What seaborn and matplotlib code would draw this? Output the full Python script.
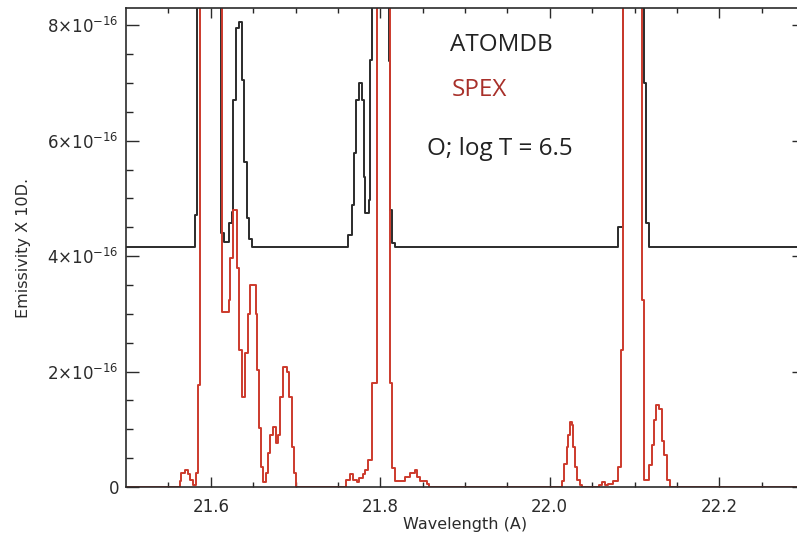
import numpy as np
import matplotlib
matplotlib.use("Agg")
import matplotlib.pyplot as plt
import seaborn as sns

# ------------------------
# Dados, emissividade em unidades de 1e-16
# ------------------------
atomdb_wl = [21.500, 21.5811, 21.5843, 21.6126, 21.6157, 21.6216, 21.6245,
             21.6263, 21.6295, 21.6334, 21.6363, 21.6393, 21.6422, 21.6449,
             21.6481, 21.7622, 21.7664, 21.7692, 21.7718, 21.7744, 21.7785,
             21.7805, 21.7825, 21.7862, 21.7880, 21.7900, 21.8106, 21.8118,
             21.8135, 21.8174, 22.0811, 22.0863, 22.1107, 22.1135, 22.1166,
             22.300]
atomdb_val = [4.15, 4.71, 20.0, 4.40, 4.24, 4.57, 4.76,
              6.70, 7.95, 8.06, 7.05, 5.63, 4.66, 4.30,
              4.15, 4.36, 4.88, 5.78, 6.70, 7.00, 6.70,
              5.37, 4.74, 4.97, 7.40, 20.0, 7.39, 4.80,
              4.22, 4.15, 4.50, 20.0, 7.00, 4.57, 4.15,
              4.15]

spex_wl = [21.500, 21.5634, 21.5654, 21.5693, 21.5728, 21.5760, 21.5791,
           21.5831, 21.5850, 21.5878, 21.6136, 21.6213, 21.6224, 21.6263,
           21.6311, 21.6334, 21.6363, 21.6402, 21.6434, 21.6461, 21.6532,
           21.6547, 21.6571, 21.6591, 21.6618, 21.6650, 21.6677, 21.6705,
           21.6736, 21.6768, 21.6795, 21.6815, 21.6847, 21.6901, 21.6925,
           21.6953, 21.6980, 21.7001, 21.7595, 21.7642, 21.7674, 21.7721,
           21.7752, 21.7799, 21.7819, 21.7858, 21.7898, 21.7957, 21.8115,
           21.8135, 21.8174, 21.8292, 21.8351, 21.8410, 21.8437, 21.8469,
           21.8555, 21.8579, 22.0143, 22.0170, 22.0202, 22.0221, 22.0241,
           22.0261, 22.0280, 22.0300, 22.0327, 22.0359, 22.0379, 22.0583,
           22.0619, 22.0654, 22.0690, 22.0749, 22.0811, 22.0840, 22.0863,
           22.1087, 22.1109, 22.1166, 22.1206, 22.1233, 22.1257, 22.1292,
           22.1324, 22.1351, 22.1383, 22.1414, 22.300]
spex_val = [0.00, 0.10, 0.24, 0.30, 0.22, 0.12, 0.04,
            0.24, 1.77, 20.0, 3.03, 3.24, 3.96, 4.80,
            3.80, 2.37, 1.56, 2.32, 3.00, 3.50, 3.00,
            2.03, 1.02, 0.35, 0.09, 0.24, 0.59, 0.90,
            1.04, 0.76, 0.90, 1.56, 2.08, 2.00, 1.56,
            0.70, 0.24, 0.00, 0.12, 0.22, 0.12, 0.08,
            0.15, 0.22, 0.30, 0.47, 1.80, 20.0, 1.80,
            0.33, 0.10, 0.17, 0.24, 0.30, 0.17, 0.10,
            0.05, 0.00, 0.10, 0.40, 0.70, 0.90, 1.13,
            1.08, 0.70, 0.35, 0.12, 0.03, 0.00, 0.04,
            0.08, 0.03, 0.06, 0.10, 0.35, 2.37, 20.0,
            3.24, 0.12, 0.38, 0.73, 1.16, 1.42, 1.35,
            0.80, 0.55, 0.12, 0.00, 0.00]

Y_TICKS = [0, 2, 4, 6, 8]
Y_LABELS = ["0", r"2$\times$10$^{-16}$", r"4$\times$10$^{-16}$",
            r"6$\times$10$^{-16}$", r"8$\times$10$^{-16}$"]
X_TICKS = [21.6, 21.8, 22.0, 22.2]
X_LABELS = ["21.6", "21.8", "22.0", "22.2"]

BLACK = "#2b2b2b"
RED = "#cc3a2c"

# ------------------------
# Figura
# ------------------------
sns.set_style("white")
plt.rcParams["font.family"] = ["DejaVu Sans"]
plt.rcParams["mathtext.fontset"] = "dejavusans"

W, H = 797, 540
fig = plt.figure(figsize=(W / 100, H / 100), dpi=100)
ax = fig.add_axes([126 / W, 53 / H, 678 / W, 479 / H])

scale = 1e-16
sns.lineplot(x=np.array(atomdb_wl), y=np.array(atomdb_val) * scale, ax=ax,
             drawstyle="steps-post", color=BLACK, lw=1.4, estimator=None,
             sort=False)
sns.lineplot(x=np.array(spex_wl), y=np.array(spex_val) * scale, ax=ax,
             drawstyle="steps-post", color=RED, lw=1.4, estimator=None,
             sort=False)

ax.set_xlim(21.5, 22.3)
ax.set_ylim(0, 8.3e-16)

ax.set_xticks(X_TICKS)
ax.set_xticklabels(X_LABELS)
ax.set_xticks(np.arange(21.55, 22.3, 0.05), minor=True)
ax.set_yticks([v * scale for v in Y_TICKS])
ax.set_yticklabels(Y_LABELS)
ax.set_yticks(np.arange(0, 8.3, 0.5) * scale, minor=True)

ax.tick_params(axis="x", which="major", direction="in", length=7.5, width=1,
               top=True, bottom=True, labelsize=12, pad=8, colors=BLACK)
ax.tick_params(axis="x", which="minor", direction="in", length=3.5, width=1,
               top=True, bottom=True)
ax.tick_params(axis="y", which="major", direction="in", length=9, width=1,
               left=True, right=True, labelsize=12, pad=5, colors=BLACK)
ax.tick_params(axis="y", which="minor", direction="in", length=5, width=1,
               left=True, right=True)

for side in ["left", "bottom", "top", "right"]:
    ax.spines[side].set_color(BLACK)
    ax.spines[side].set_linewidth(1.2)

ax.set_xlabel("Wavelength (A)", fontsize=11.5, color=BLACK, labelpad=1)
ax.set_ylabel("Emissivity X 10D.", fontsize=11.5, color=BLACK, labelpad=12)
ax.set_facecolor("white")

fig.text(450 / W, 1 - 45 / H, "ATOMDB", family="Open Sans", fontsize=17.5,
         color="#222222", ha="left", va="center")
fig.text(452 / W, 1 - 90 / H, "SPEX", family="Open Sans", fontsize=17.5,
         color="#a8302a", ha="left", va="center")
fig.text(427 / W, 1 - 149 / H, "O; log T = 6.5", family="Open Sans",
         fontsize=17.5, color="#222222", ha="left", va="center")

fig.savefig("out.png", dpi=100, facecolor="white")
